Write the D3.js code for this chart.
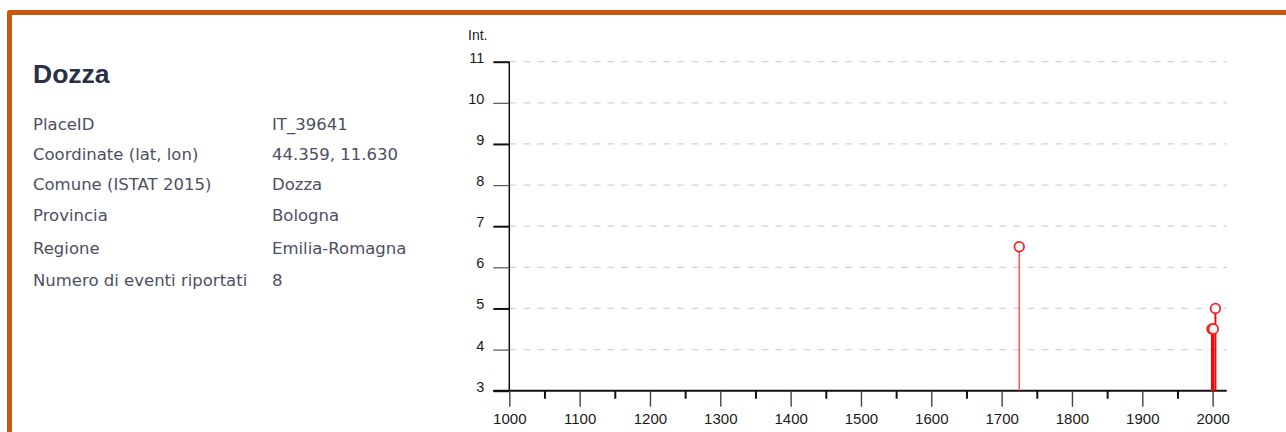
<!doctype html>
<html>
<head>
<meta charset="utf-8">
<script src="https://cdn.jsdelivr.net/npm/d3@7"></script>
<style>
  body { margin: 0; background: #fff; width: 1286px; height: 432px; overflow: hidden; }
  #frame {
    position: absolute; left: 7px; top: 10px; width: 1300px; height: 440px;
    border-top: 5px solid #c65911; border-left: 5px solid #c65911;
    border-top-left-radius: 3px;
  }
  #info { position: absolute; left: 0; top: 0; font-family: "DejaVu Sans", Verdana, sans-serif; }
  #info h2 {
    position: absolute; left: 33px; top: 59px; margin: 0;
    font: bold 26.5px "Liberation Sans", Arial, sans-serif; color: #283048; white-space: nowrap;
  }
  .lab, .val { position: absolute; font-size: 16.5px; color: #4c5062; white-space: nowrap; line-height: 1; }
  .lab { left: 33px; }
  .val { left: 272px; }
  svg { position: absolute; left: 0; top: 0; }
  svg text { font-family: "Liberation Sans", Arial, sans-serif; fill: #222; }
</style>
</head>
<body>
<div id="frame"></div>
<div id="info"><h2>Dozza</h2></div>
<svg width="1286" height="432"></svg>
<script>
// scheda località
var infoLabels = ["PlaceID", "Coordinate (lat, lon)", "Comune (ISTAT 2015)", "Provincia", "Regione", "Numero di eventi riportati"];
var infoValues = ["IT_39641", "44.359, 11.630", "Dozza", "Bologna", "Emilia-Romagna", "8"];
var infoBaseline = [130, 160, 190, 221.5, 254, 286.5];

// storia sismica (anno, intensità)
var eventYears = [1725, 1999, 2000, 2001, 2004];
var eventInt = [6.5, 4.5, 4.5, 4.5, 5];

var yTicks = [3, 4, 5, 6, 7, 8, 9, 10, 11];
var xTicks = d3.range(1000, 2001, 50);

var info = d3.select("#info");
infoLabels.forEach(function(l, i) {
  info.append("div").attr("class", "lab").style("top", (infoBaseline[i] - 13.5) + "px").text(l);
  info.append("div").attr("class", "val").style("top", (infoBaseline[i] - 13.5) + "px").text(infoValues[i]);
});

var x = d3.scaleLinear().domain([1000, 2020]).range([509.3, 1226.7]);
var y = d3.scaleLinear().domain([3, 11]).range([390.7, 61.7]);

var svg = d3.select("svg");

// griglia
svg.append("g").selectAll("line")
  .data(yTicks.slice(1))
  .enter().append("line")
  .attr("x1", x(1000)).attr("x2", x(2020))
  .attr("y1", d => y(d)).attr("y2", d => y(d))
  .style("stroke", "#d4d4d4")
  .style("stroke-width", 1.2)
  .style("stroke-dasharray", "7,7");

// asse y
var gy = svg.append("g")
  .attr("transform", `translate(${x(1000)},0)`)
  .call(d3.axisLeft(y).tickValues(yTicks).tickSize(16).tickPadding(9).tickFormat(d3.format("d")));
gy.select(".domain").attr("d", `M0,${y(11)}V${y(3) + 1}`).style("stroke", "#111").style("stroke-width", 1.5);
gy.selectAll(".tick line").style("stroke", (d, i) => i % 2 ? "#555" : "#111").style("stroke-width", (d, i) => i % 2 ? 1.2 : 2);
gy.selectAll(".tick text").attr("dy", "0.03em").style("font-size", "14.5px").style("fill", "#1a1a1a");

svg.append("text")
  .attr("x", 468).attr("y", 39.5)
  .style("font-size", "14px")
  .text("Int.");

// asse x
var gx = svg.append("g")
  .attr("transform", `translate(0,${y(3)})`)
  .call(d3.axisBottom(x).tickValues(xTicks).tickSize(16).tickFormat(d => d % 100 ? "" : d));
gx.select(".domain").attr("d", `M${x(1000) - 16},0H${x(2020)}`).style("stroke", "#111").style("stroke-width", 2);
gx.selectAll(".tick line")
  .attr("y2", d => d % 100 ? 8 : 16)
  .style("stroke", d => d % 100 ? "#111" : "#444")
  .style("stroke-width", d => d % 100 ? 2 : 1.4);
gx.selectAll(".tick text").attr("y", 33.8).attr("dy", "0").style("font-size", "15px").style("fill", "#1a1a1a");

// eventi
var ev = eventYears.map((d, i) => ({ year: d, int: eventInt[i] }));
svg.append("g").selectAll("line")
  .data(ev)
  .enter().append("line")
  .attr("x1", d => x(d.year)).attr("x2", d => x(d.year))
  .attr("y1", y(3)).attr("y2", d => y(d.int))
  .style("stroke", d => d.year < 1900 ? "#ff3b3b" : "#ff0000")
  .style("stroke-width", d => d.year < 1900 ? 1.3 : 1.9);
svg.append("g").selectAll("circle")
  .data(ev)
  .enter().append("circle")
  .attr("cx", d => x(d.year)).attr("cy", d => y(d.int))
  .attr("r", 4.8)
  .style("fill", "#fff")
  .style("stroke", "#ff2020")
  .style("stroke-width", 1.8);
</script>
</body>
</html>
